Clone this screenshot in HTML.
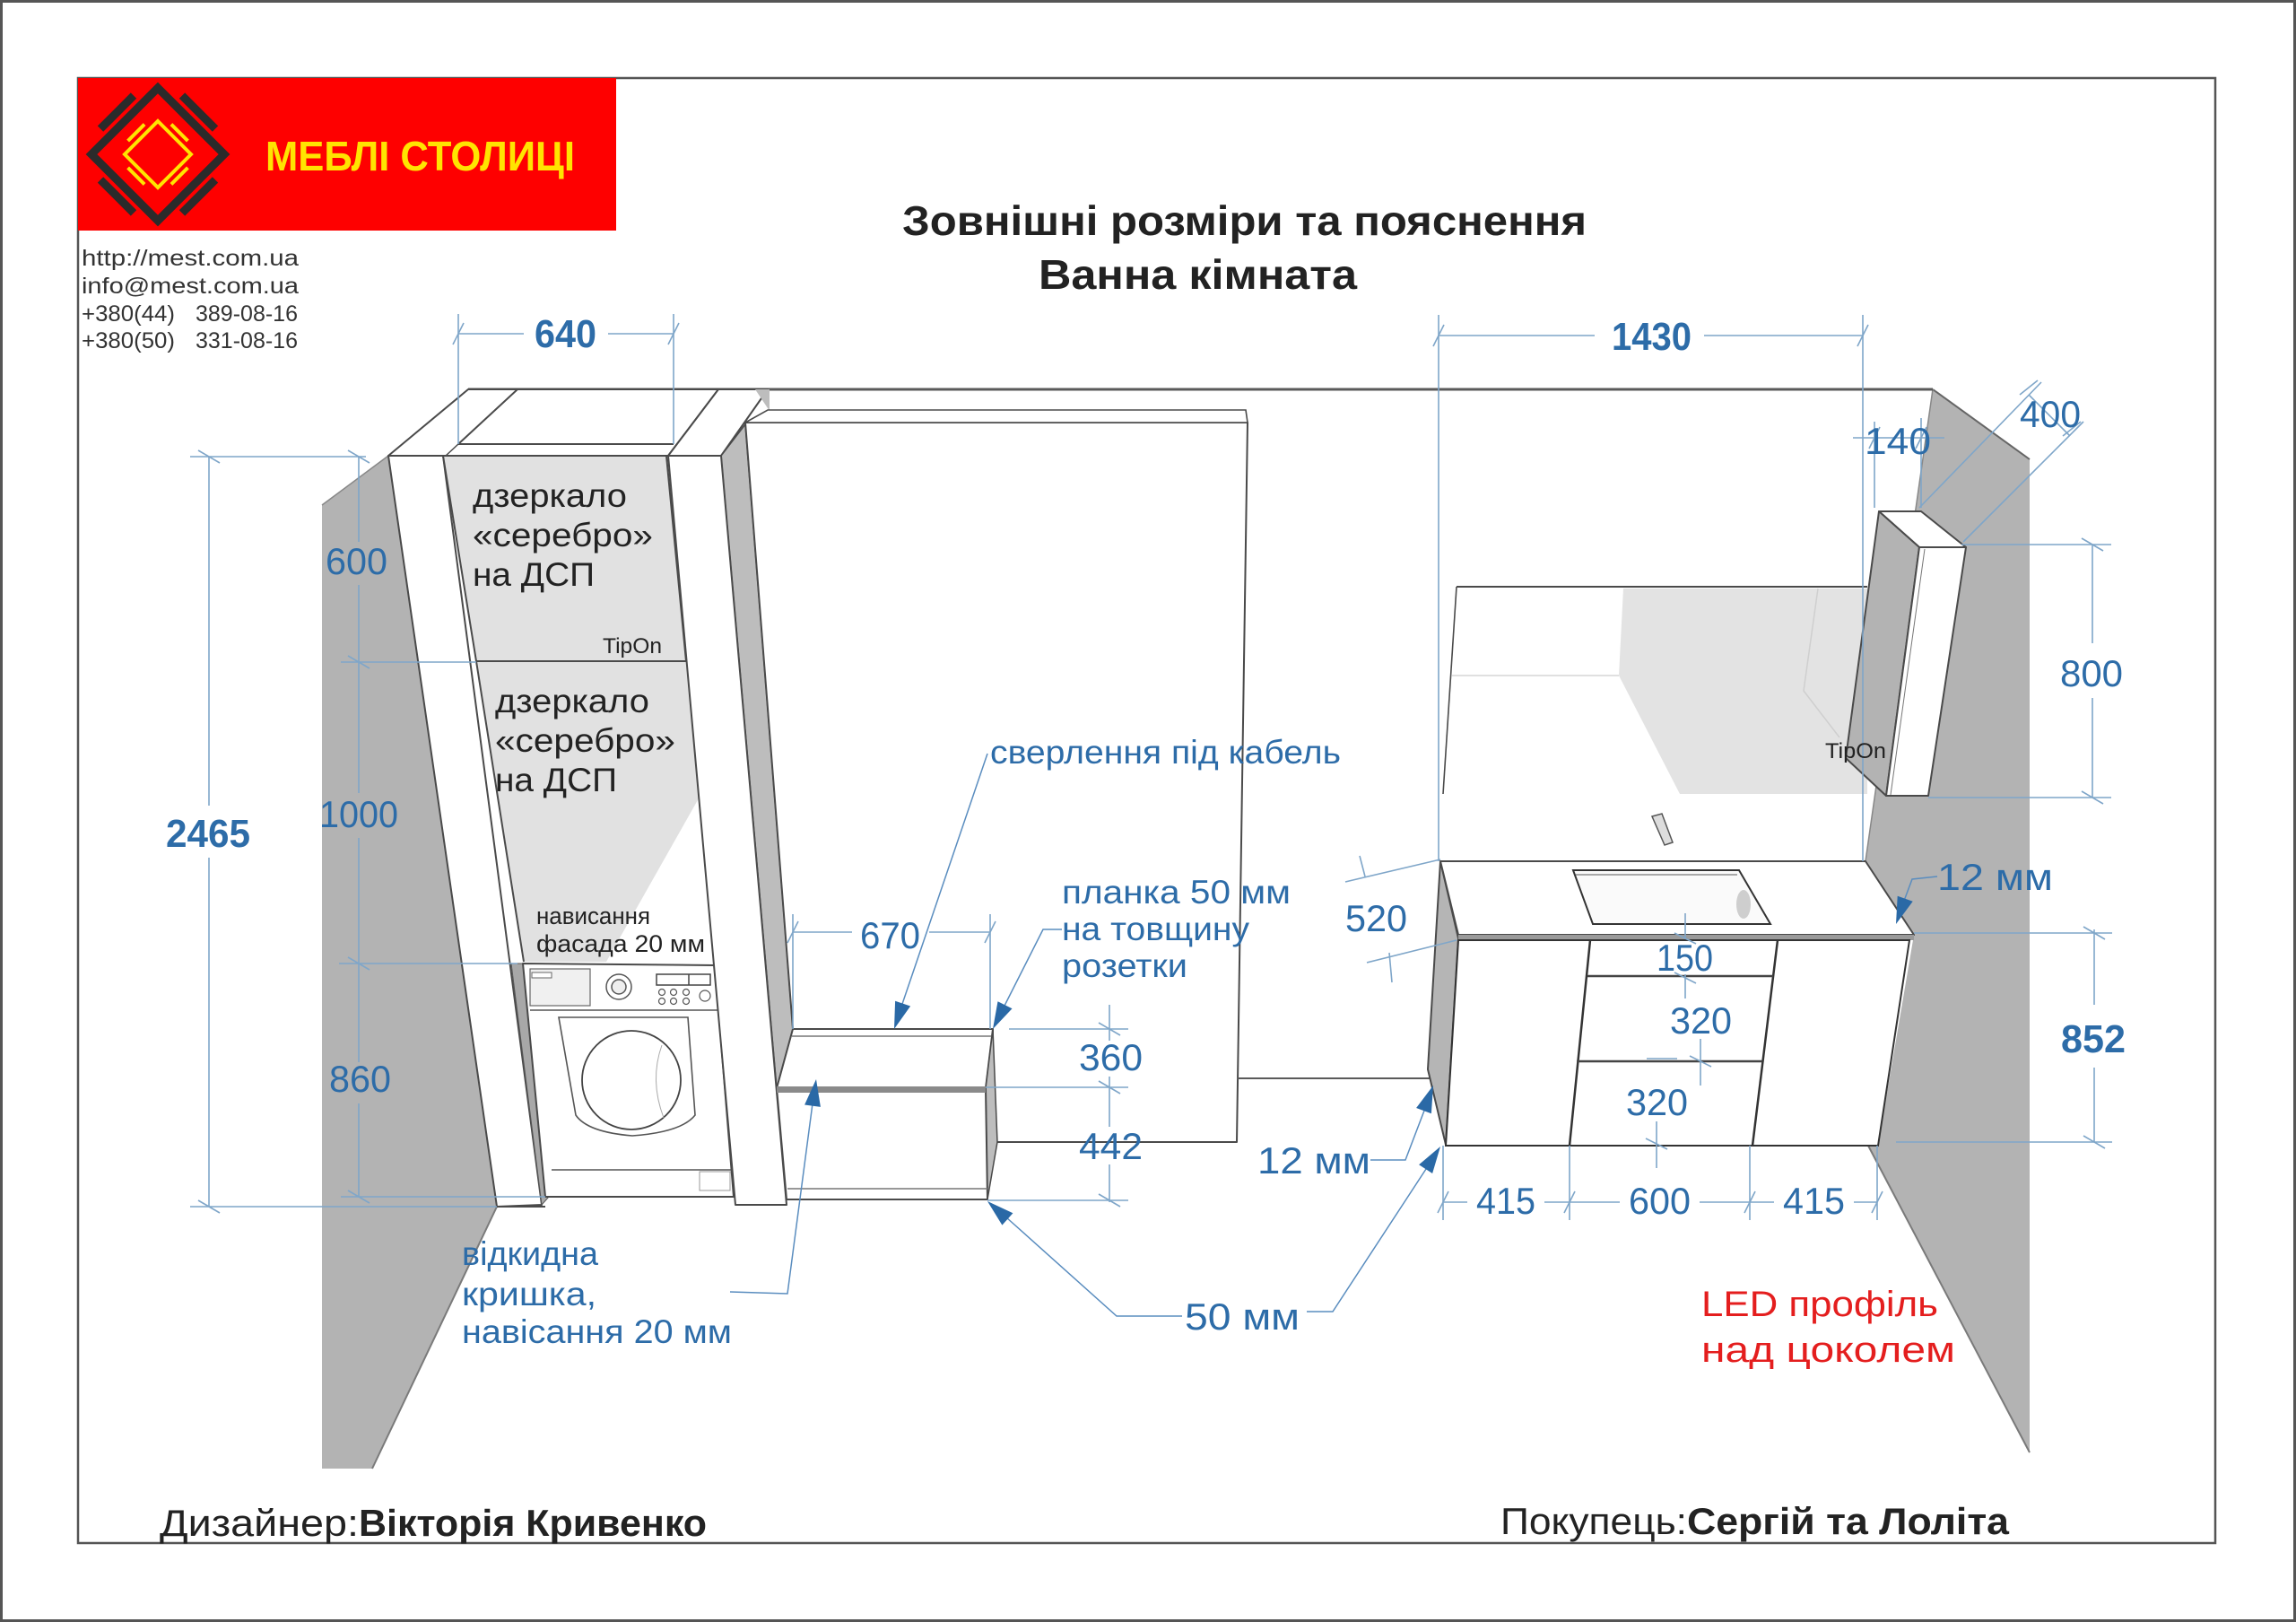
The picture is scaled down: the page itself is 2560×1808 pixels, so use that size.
<!DOCTYPE html>
<html><head><meta charset="utf-8">
<style>
html,body{margin:0;padding:0;background:#fff;}
svg{display:block;}
text{font-family:"Liberation Sans","DejaVu Sans",sans-serif;}
.dk{fill:#222;}
.bl{fill:#2d6ca8;}
.dim{stroke:#7fa6c9;stroke-width:1.6;fill:none;}
.ld{stroke:#5a8dbf;stroke-width:1.5;fill:none;}
.ar{fill:#2a69a6;}
.ol{stroke:#4a4a4a;stroke-width:2;stroke-linejoin:round;}
</style></head><body>
<svg width="2560" height="1808" viewBox="0 0 2560 1808" xmlns="http://www.w3.org/2000/svg">
<rect x="0" y="0" width="2560" height="1808" fill="#fff"/>
<rect x="1.5" y="1.5" width="2557" height="1805" fill="none" stroke="#555" stroke-width="3"/>
<rect x="87" y="87" width="2383" height="1633" fill="none" stroke="#555" stroke-width="2.5"/>

<!-- LOGO -->
<rect x="87" y="87" width="600" height="170" fill="#fe0000"/>
<polygon points="176,98 250,172 176,246 102,172" fill="none" stroke="#2b2b2b" stroke-width="9" stroke-linejoin="miter"/>
<g stroke="#2b2b2b" stroke-width="9" stroke-linecap="butt">
<line x1="112" y1="143.6" x2="149" y2="106.6"/>
<line x1="203" y1="106.6" x2="240" y2="143.6"/>
<line x1="240" y1="200.4" x2="203" y2="237.4"/>
<line x1="149" y1="237.4" x2="112" y2="200.4"/>
</g>
<polygon points="176,135 213,172 176,209 139,172" fill="none" stroke="#ffe400" stroke-width="4"/>
<g stroke="#ffe400" stroke-width="4">
<line x1="142.6" y1="157.1" x2="161.1" y2="138.6"/>
<line x1="190.9" y1="138.6" x2="209.4" y2="157.1"/>
<line x1="209.4" y1="186.9" x2="190.9" y2="205.4"/>
<line x1="161.1" y1="205.4" x2="142.6" y2="186.9"/>
</g>
<text x="296" y="190" font-size="46" font-weight="bold" fill="#ffe400" textLength="345" lengthAdjust="spacingAndGlyphs">МЕБЛІ СТОЛИЦІ</text>

<!-- contacts -->
<g font-size="25" fill="#333">
<text x="91" y="296" textLength="242" lengthAdjust="spacingAndGlyphs">http://mest.com.ua</text>
<text x="91" y="327" textLength="242" lengthAdjust="spacingAndGlyphs">info@mest.com.ua</text>
<text x="91" y="358" textLength="104" lengthAdjust="spacingAndGlyphs">+380(44)</text>
<text x="218" y="358" textLength="114" lengthAdjust="spacingAndGlyphs">389-08-16</text>
<text x="91" y="388" textLength="104" lengthAdjust="spacingAndGlyphs">+380(50)</text>
<text x="218" y="388" textLength="114" lengthAdjust="spacingAndGlyphs">331-08-16</text>
</g>

<!-- Title -->
<text class="dk" x="1006" y="262" font-size="46" font-weight="bold" textLength="763" lengthAdjust="spacingAndGlyphs">Зовнішні розміри та пояснення</text>
<text class="dk" x="1158" y="322" font-size="46" font-weight="bold" textLength="355" lengthAdjust="spacingAndGlyphs">Ванна кімната</text>

<!-- WALLS -->
<polygon points="359,563 433,508 554,1345 415,1637 359,1637" fill="#b3b3b3"/>
<line x1="554" y1="1345" x2="415" y2="1637" stroke="#7a7a7a" stroke-width="2"/>
<line x1="359" y1="563" x2="433" y2="508" stroke="#888" stroke-width="1.5"/>
<polygon points="2155,434 2263,512 2263,1619 2083,1277 2094,1277 2134,1042 2080,960" fill="#b3b3b3"/>
<line x1="2083" y1="1277" x2="2263" y2="1619" stroke="#7a7a7a" stroke-width="2"/>
<line x1="2155" y1="434" x2="2263" y2="512" stroke="#666" stroke-width="2"/>
<line x1="2155" y1="434" x2="2080" y2="960" stroke="#888" stroke-width="1.5"/>
<line x1="522" y1="434" x2="2155" y2="434" stroke="#5a5a5a" stroke-width="3"/>

<!-- TALL CABINET -->
<polygon class="ol" points="433,508 522,434 801,434 745,508" fill="#fff"/>
<polyline class="ol" points="577,434 511,495 751,495" fill="none" stroke-width="1.6"/>
<line x1="497" y1="508" x2="511" y2="495" stroke="#4a4a4a" stroke-width="1.5"/>
<polygon class="ol" points="433,508 494,508 604,1343 554,1345" fill="#fff"/>
<polygon class="ol" points="494,508 743,508 765,737 531,737" fill="#e1e1e1"/>
<polygon points="531,737 765,737 779,890 676,1072 584,1072" fill="#e1e1e1"/>
<line x1="531" y1="737" x2="584" y2="1072" stroke="#4a4a4a" stroke-width="2"/>
<line x1="531" y1="737" x2="765" y2="737" stroke="#4a4a4a" stroke-width="2"/>
<line x1="554" y1="1345" x2="608" y2="1345" stroke="#4a4a4a" stroke-width="2"/>

<!-- washer -->
<polygon points="570,1074 585,1074 612,1334 604,1343" fill="#a8a8a8" stroke="#555" stroke-width="1"/>
<polygon class="ol" points="583,1074 797,1076 818,1334 608,1334" fill="#fff"/>
<line x1="591" y1="1126" x2="800" y2="1126" stroke="#555" stroke-width="1.5"/>
<rect x="591" y="1080" width="67" height="41" fill="#f0f0f0" stroke="#666" stroke-width="1.2"/>
<rect x="593" y="1084" width="22" height="6" fill="#fff" stroke="#666" stroke-width="1"/>
<circle cx="690" cy="1100" r="14" fill="#fff" stroke="#555" stroke-width="1.5"/>
<circle cx="690" cy="1100" r="8" fill="#eee" stroke="#555" stroke-width="1.5"/>
<rect x="732" y="1086" width="60" height="12" fill="#fff" stroke="#444" stroke-width="1.5"/>
<line x1="768" y1="1086" x2="768" y2="1098" stroke="#444" stroke-width="1.5"/>
<g fill="#fff" stroke="#555" stroke-width="1.2">
<circle cx="738" cy="1106" r="3.5"/><circle cx="751" cy="1106" r="3.5"/><circle cx="765" cy="1106" r="3.5"/>
<circle cx="738" cy="1116" r="3.5"/><circle cx="751" cy="1116" r="3.5"/><circle cx="765" cy="1116" r="3.5"/>
<circle cx="786" cy="1110" r="6"/>
</g>
<path d="M623,1134 L767,1134 L775,1243 Q760,1262 705,1266 Q655,1262 642,1243 Z" fill="#fff" stroke="#555" stroke-width="1.6"/>
<circle cx="704" cy="1204" r="55" fill="#fff" stroke="#444" stroke-width="1.8"/>
<path d="M738,1165 Q724,1204 740,1246" fill="none" stroke="#aaa" stroke-width="1"/>
<line x1="615" y1="1304" x2="818" y2="1304" stroke="#555" stroke-width="1.5"/>
<rect x="780" y="1306" width="34" height="21" fill="#fff" stroke="#999" stroke-width="1"/>

<!-- COLUMN -->
<polygon class="ol" points="745,508 804,508 856,434 801,434" fill="#fff"/>
<polygon points="842,434 858,434 858,458" fill="#bdbdbd"/>
<polygon points="804,508 831,473 884,1147 866,1213" fill="#bdbdbd" stroke="#4a4a4a" stroke-width="1.5"/>
<polygon class="ol" points="745,508 804,508 877,1343 820,1343" fill="#fff"/>

<!-- MIDDLE PANEL -->
<polygon class="ol" points="831,471 1391,471 1379,1273 1107,1273 1107,1147 884,1147" fill="#fff"/>
<polygon points="856,457 1389,457 1391,471 831,471" fill="#fff" stroke="#4a4a4a" stroke-width="1.6"/>
<line x1="1379" y1="1202" x2="1600" y2="1202" stroke="#5a5a5a" stroke-width="2"/>

<!-- BOX -->
<polygon class="ol" points="884,1147 1107,1147 1099,1213 866,1213" fill="#fff"/>
<line x1="883" y1="1155" x2="1106" y2="1155" stroke="#777" stroke-width="1.5"/>
<polygon points="1107,1147 1112,1273 1101,1337 1099,1213" fill="#bdbdbd" stroke="#4a4a4a" stroke-width="1.5"/>
<polygon class="ol" points="866,1213 1099,1213 1101,1337 877,1337" fill="#fff"/>
<polygon points="866,1211 1099,1211 1099,1218 866,1218" fill="#8a8a8a"/>
<line x1="878" y1="1325" x2="1101" y2="1325" stroke="#777" stroke-width="1.5"/>

<!-- MIRROR RECESS -->
<polygon points="1810,656 2082,656 2082,885 1873,885 1805,753" fill="#e3e3e3"/>
<line x1="1624" y1="654" x2="2082" y2="654" stroke="#4a4a4a" stroke-width="2"/>
<line x1="1624" y1="654" x2="1609" y2="885" stroke="#4a4a4a" stroke-width="1.6"/>
<polyline points="2027,656 2011,770 2051,822" fill="none" stroke="#cfcfcf" stroke-width="1.5"/>
<line x1="1619" y1="753" x2="1805" y2="753" stroke="#d5d5d5" stroke-width="1.5"/>

<!-- MIRROR CABINET -->
<polygon class="ol" points="2095,570 2142,570 2192,610 2140,610" fill="#fff"/>
<polygon class="ol" points="2095,570 2140,610 2103,887 2058,845" fill="#b3b3b3"/>
<polygon class="ol" points="2140,610 2192,610 2150,887 2103,887" fill="#fff"/>
<line x1="2146" y1="612" x2="2108" y2="886" stroke="#777" stroke-width="1"/>

<!-- VANITY -->
<polygon class="ol" points="1606,960 1626,1046 1612,1276 1592,1192" fill="#b5b5b5"/>
<polygon class="ol" points="1606,960 2080,960 2134,1042 1626,1042" fill="#fff"/>
<polygon points="1626,1042 2134,1042 2134,1048 1626,1048" fill="#9a9a9a"/>
<polygon points="1626,1048 2129,1048 2094,1277 1612,1277" fill="#fff" stroke="#333" stroke-width="2"/>
<line x1="1773" y1="1048" x2="1750" y2="1277" stroke="#333" stroke-width="2.5"/>
<line x1="1982" y1="1048" x2="1954" y2="1277" stroke="#333" stroke-width="2.5"/>
<line x1="1770" y1="1088" x2="1977" y2="1088" stroke="#444" stroke-width="2.5"/>
<line x1="1758" y1="1183" x2="1965" y2="1183" stroke="#444" stroke-width="2.5"/>
<polygon points="1754,970 1939,970 1974,1030 1776,1030" fill="#fafafa" stroke="#333" stroke-width="2"/>
<line x1="1757" y1="975" x2="1937" y2="975" stroke="#777" stroke-width="1.2"/>
<ellipse cx="1944" cy="1008" rx="8" ry="16" fill="#bbb" opacity="0.7"/>
<polygon points="1842,910 1853,907 1865,939 1856,942" fill="#ddd" stroke="#555" stroke-width="1.5"/>

<!-- DIMENSION LINES -->
<g class="dim">
<!-- left 2465 -->
<line x1="212" y1="509" x2="408" y2="509"/>
<line x1="212" y1="1345" x2="554" y2="1345"/>
<line x1="233" y1="509" x2="233" y2="898"/>
<line x1="233" y1="956" x2="233" y2="1345"/>
<line x1="221" y1="502" x2="245" y2="516"/>
<line x1="221" y1="1338" x2="245" y2="1352"/>
<!-- sub dims -->
<line x1="400" y1="509" x2="400" y2="604"/>
<line x1="400" y1="652" x2="400" y2="884"/>
<line x1="400" y1="934" x2="400" y2="1184"/>
<line x1="400" y1="1230" x2="400" y2="1334"/>
<line x1="380" y1="738" x2="531" y2="738"/>
<line x1="378" y1="1074" x2="577" y2="1074"/>
<line x1="380" y1="1334" x2="608" y2="1334"/>
<line x1="388" y1="502" x2="412" y2="516"/>
<line x1="388" y1="731" x2="412" y2="745"/>
<line x1="388" y1="1067" x2="412" y2="1081"/>
<line x1="388" y1="1327" x2="412" y2="1341"/>
<!-- 640 -->
<line x1="511" y1="350" x2="511" y2="495"/>
<line x1="751" y1="350" x2="751" y2="495"/>
<line x1="511" y1="372" x2="584" y2="372"/>
<line x1="678" y1="372" x2="751" y2="372"/>
<line x1="505" y1="384" x2="517" y2="360"/>
<line x1="745" y1="384" x2="757" y2="360"/>
<!-- 1430 -->
<line x1="1604" y1="351" x2="1604" y2="960"/>
<line x1="1604" y1="374" x2="1778" y2="374"/>
<line x1="1900" y1="374" x2="2077" y2="374"/>
<line x1="1598" y1="386" x2="1610" y2="362"/>
<line x1="2071" y1="386" x2="2083" y2="362"/>
<!-- 670 -->
<line x1="884" y1="1019" x2="884" y2="1147"/>
<line x1="1104" y1="1019" x2="1104" y2="1147"/>
<line x1="884" y1="1039" x2="950" y2="1039"/>
<line x1="1036" y1="1039" x2="1104" y2="1039"/>
<line x1="878" y1="1051" x2="890" y2="1027"/>
<line x1="1098" y1="1051" x2="1110" y2="1027"/>
<!-- 360 / 442 -->
<line x1="1125" y1="1147" x2="1258" y2="1147"/>
<line x1="1099" y1="1212" x2="1258" y2="1212"/>
<line x1="1101" y1="1338" x2="1258" y2="1338"/>
<line x1="1237" y1="1120" x2="1237" y2="1160"/>
<line x1="1237" y1="1200" x2="1237" y2="1256"/>
<line x1="1237" y1="1298" x2="1237" y2="1340"/>
<line x1="1225" y1="1140" x2="1249" y2="1154"/>
<line x1="1225" y1="1205" x2="1249" y2="1219"/>
<line x1="1225" y1="1331" x2="1249" y2="1345"/>
<!-- 520 -->
<line x1="1500" y1="983" x2="1606" y2="958"/>
<line x1="1524" y1="1073" x2="1624" y2="1048"/>
<line x1="1516" y1="954" x2="1522" y2="977"/>
<line x1="1549" y1="1062" x2="1552" y2="1095"/>
<!-- 150/320/320 -->
<line x1="1879" y1="1018" x2="1879" y2="1047"/>
<line x1="1879" y1="1086" x2="1879" y2="1113"/>
<line x1="1867" y1="1040" x2="1891" y2="1052"/>
<line x1="1867" y1="1084" x2="1891" y2="1096"/>
<line x1="1896" y1="1158" x2="1896" y2="1210"/>
<line x1="1836" y1="1180" x2="1870" y2="1180"/>
<line x1="1884" y1="1177" x2="1908" y2="1189"/>
<line x1="1847" y1="1250" x2="1847" y2="1302"/>
<line x1="1835" y1="1269" x2="1859" y2="1281"/>
<!-- 415/600/415 -->
<line x1="1609" y1="1277" x2="1609" y2="1360"/>
<line x1="1750" y1="1277" x2="1750" y2="1360"/>
<line x1="1951" y1="1277" x2="1951" y2="1360"/>
<line x1="2093" y1="1277" x2="2093" y2="1360"/>
<line x1="1609" y1="1340" x2="1636" y2="1340"/>
<line x1="1722" y1="1340" x2="1806" y2="1340"/>
<line x1="1895" y1="1340" x2="1978" y2="1340"/>
<line x1="2067" y1="1340" x2="2093" y2="1340"/>
<line x1="1603" y1="1352" x2="1615" y2="1328"/>
<line x1="1744" y1="1352" x2="1756" y2="1328"/>
<line x1="1945" y1="1352" x2="1957" y2="1328"/>
<line x1="2087" y1="1352" x2="2099" y2="1328"/>
<!-- 852 -->
<line x1="2134" y1="1040" x2="2355" y2="1040"/>
<line x1="2114" y1="1273" x2="2355" y2="1273"/>
<line x1="2335" y1="1036" x2="2335" y2="1120"/>
<line x1="2335" y1="1190" x2="2335" y2="1273"/>
<line x1="2323" y1="1033" x2="2347" y2="1047"/>
<line x1="2323" y1="1266" x2="2347" y2="1280"/>
<!-- 800 -->
<line x1="2187" y1="607" x2="2354" y2="607"/>
<line x1="2150" y1="889" x2="2354" y2="889"/>
<line x1="2333" y1="607" x2="2333" y2="717"/>
<line x1="2333" y1="778" x2="2333" y2="889"/>
<line x1="2321" y1="600" x2="2345" y2="614"/>
<line x1="2321" y1="882" x2="2345" y2="896"/>
<!-- 1430 right ext -->
<line x1="2077" y1="351" x2="2077" y2="960"/>
<!-- 140 -->
<line x1="2090" y1="470" x2="2090" y2="566"/>
<line x1="2142" y1="466" x2="2142" y2="566"/>
<line x1="2066" y1="488" x2="2168" y2="488"/>
<line x1="2084" y1="500" x2="2096" y2="476"/>
<line x1="2136" y1="500" x2="2148" y2="476"/>
<!-- 400 -->
<line x1="2140" y1="566" x2="2276" y2="426"/>
<line x1="2189" y1="604" x2="2323" y2="470"/>
<line x1="2262" y1="440" x2="2308" y2="486"/>
<line x1="2252" y1="440" x2="2272" y2="424"/>
<line x1="2300" y1="486" x2="2320" y2="470"/>
</g>

<!-- LEADERS -->
<g class="ld">
<polyline points="1101,840 1004,1125"/>
<polyline points="1184,1036 1163,1036 1118,1125"/>
<polyline points="814,1440 878,1442 906,1230"/>
<polyline points="1318,1467 1245,1467 1122,1357"/>
<polyline points="1457,1462 1486,1462 1592,1300"/>
<polyline points="1528,1293 1567,1293 1588,1238"/>
<polyline points="2160,977 2132,980 2123,1004"/>
</g>
<g class="ar">
<polygon points="997,1147 998.1,1115.7 1015.1,1121.5"/>
<polygon points="1107,1147 1112.5,1116.2 1128.5,1124.3"/>
<polygon points="910,1203 914.9,1233.9 897.1,1231.5"/>
<polygon points="1101,1339 1129.4,1352.2 1117.4,1365.6"/>
<polygon points="1606,1278 1597.1,1308 1582.1,1298.2"/>
<polygon points="1598,1210 1595.9,1241.3 1579.1,1235"/>
<polygon points="2114,1030 2115.7,998.7 2132.7,1004.8"/>
</g>

<!-- DARK LABELS -->
<g class="dk" font-size="37">
<text x="527" y="565" textLength="172" lengthAdjust="spacingAndGlyphs">дзеркало</text>
<text x="527" y="609" textLength="201" lengthAdjust="spacingAndGlyphs">«серебро»</text>
<text x="527" y="653" textLength="136" lengthAdjust="spacingAndGlyphs">на ДСП</text>
<text x="552" y="794" textLength="172" lengthAdjust="spacingAndGlyphs">дзеркало</text>
<text x="552" y="838" textLength="201" lengthAdjust="spacingAndGlyphs">«серебро»</text>
<text x="552" y="882" textLength="136" lengthAdjust="spacingAndGlyphs">на ДСП</text>
</g>
<text class="dk" x="672" y="728" font-size="24" textLength="66" lengthAdjust="spacingAndGlyphs">TipOn</text>
<text class="dk" x="2035" y="845" font-size="24" textLength="68" lengthAdjust="spacingAndGlyphs">TipOn</text>
<text class="dk" x="598" y="1030" font-size="27" textLength="127" lengthAdjust="spacingAndGlyphs">нависання</text>
<text class="dk" x="598" y="1061" font-size="27" textLength="188" lengthAdjust="spacingAndGlyphs">фасада 20 мм</text>

<!-- BLUE DIM LABELS -->
<g class="bl" font-size="42">
<text x="363" y="640" textLength="69" lengthAdjust="spacingAndGlyphs">600</text>
<text x="356" y="922" textLength="88" lengthAdjust="spacingAndGlyphs">1000</text>
<text x="367" y="1217" textLength="69" lengthAdjust="spacingAndGlyphs">860</text>
<text x="959" y="1057" textLength="67" lengthAdjust="spacingAndGlyphs">670</text>
<text x="1203" y="1193" textLength="71" lengthAdjust="spacingAndGlyphs">360</text>
<text x="1203" y="1292" textLength="71" lengthAdjust="spacingAndGlyphs">442</text>
<text x="1402" y="1308" textLength="126" lengthAdjust="spacingAndGlyphs">12 мм</text>
<text x="1321" y="1482" textLength="128" lengthAdjust="spacingAndGlyphs">50 мм</text>
<text x="1500" y="1038" textLength="69" lengthAdjust="spacingAndGlyphs">520</text>
<text x="1847" y="1082" textLength="63" lengthAdjust="spacingAndGlyphs">150</text>
<text x="1862" y="1152" textLength="69" lengthAdjust="spacingAndGlyphs">320</text>
<text x="1813" y="1243" textLength="69" lengthAdjust="spacingAndGlyphs">320</text>
<text x="1646" y="1353" textLength="66" lengthAdjust="spacingAndGlyphs">415</text>
<text x="1816" y="1353" textLength="69" lengthAdjust="spacingAndGlyphs">600</text>
<text x="1988" y="1353" textLength="69" lengthAdjust="spacingAndGlyphs">415</text>
<text x="2160" y="992" textLength="129" lengthAdjust="spacingAndGlyphs">12 мм</text>
<text x="2297" y="765" textLength="70" lengthAdjust="spacingAndGlyphs">800</text>
<text x="2079" y="506" textLength="74" lengthAdjust="spacingAndGlyphs">140</text>
<text x="2252" y="476" textLength="68" lengthAdjust="spacingAndGlyphs">400</text>
</g>
<g class="bl" font-size="44" font-weight="bold">
<text x="596" y="387" textLength="69" lengthAdjust="spacingAndGlyphs">640</text>
<text x="1797" y="390" textLength="89" lengthAdjust="spacingAndGlyphs">1430</text>
<text x="185" y="944" textLength="94" lengthAdjust="spacingAndGlyphs">2465</text>
<text x="2298" y="1173" textLength="72" lengthAdjust="spacingAndGlyphs">852</text>
</g>
<g class="bl" font-size="37">
<text x="1104" y="851" textLength="391" lengthAdjust="spacingAndGlyphs">сверлення під кабель</text>
<text x="1184" y="1007" textLength="255" lengthAdjust="spacingAndGlyphs">планка 50 мм</text>
<text x="1184" y="1048" textLength="209" lengthAdjust="spacingAndGlyphs">на товщину</text>
<text x="1184" y="1089" textLength="140" lengthAdjust="spacingAndGlyphs">розетки</text>
<text x="515" y="1410" textLength="152" lengthAdjust="spacingAndGlyphs">відкидна</text>
<text x="515" y="1455" textLength="150" lengthAdjust="spacingAndGlyphs">кришка,</text>
<text x="515" y="1497" textLength="301" lengthAdjust="spacingAndGlyphs">навісання 20 мм</text>
</g>
<g fill="#e41e1e" font-size="40">
<text x="1897" y="1467" textLength="264" lengthAdjust="spacingAndGlyphs">LED профіль</text>
<text x="1897" y="1518" textLength="283" lengthAdjust="spacingAndGlyphs">над цоколем</text>
</g>

<!-- FOOTER -->
<text class="dk" x="178" y="1712" font-size="42" textLength="222" lengthAdjust="spacingAndGlyphs">Дизайнер:</text>
<text class="dk" x="400" y="1712" font-size="42" font-weight="bold" textLength="388" lengthAdjust="spacingAndGlyphs">Вікторія Кривенко</text>
<text class="dk" x="1673" y="1710" font-size="42" textLength="208" lengthAdjust="spacingAndGlyphs">Покупець:</text>
<text class="dk" x="1881" y="1710" font-size="42" font-weight="bold" textLength="359" lengthAdjust="spacingAndGlyphs">Сергій та Лоліта</text>
</svg>
</body></html>
